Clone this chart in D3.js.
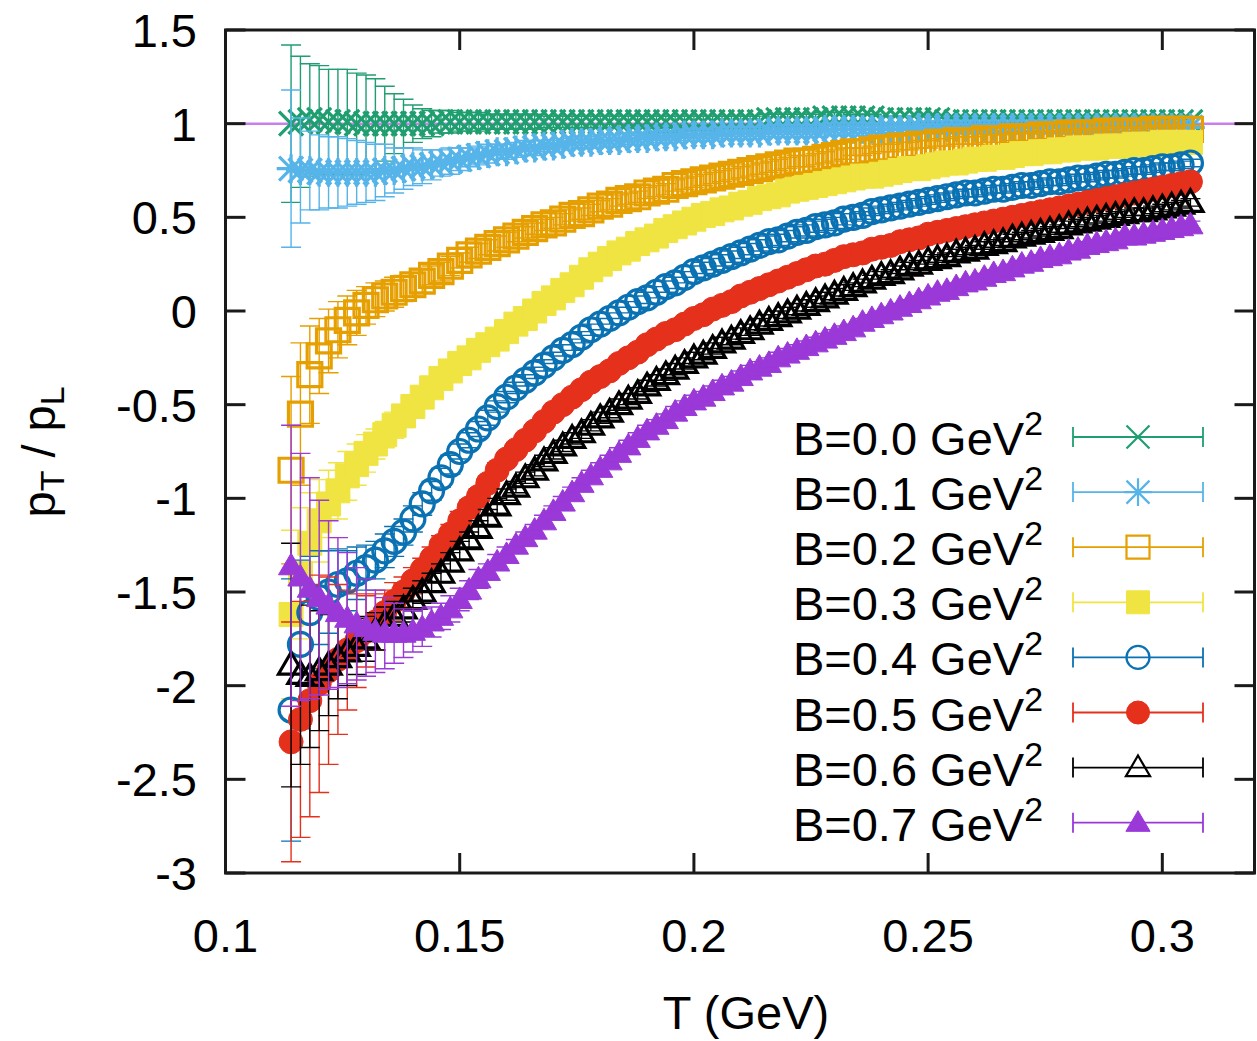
<!DOCTYPE html>
<html><head><meta charset="utf-8">
<script src="https://cdn.jsdelivr.net/npm/d3@7"></script>
<style>
html,body{margin:0;padding:0;background:#fff;}
svg{display:block;}
text{font-family:"Liberation Sans",Arial,Helvetica,sans-serif;fill:#000;}
</style>
</head><body>
<svg id="chart" width="1257" height="1041"></svg>
<script>
// ---- data ----
const T = [0.114,0.116,0.118,0.120,0.122,0.124,0.126,0.128,0.130,0.132,
0.134,0.136,0.138,0.140,0.142,0.144,0.146,0.148,0.150,0.152,
0.154,0.156,0.158,0.160,0.162,0.164,0.166,0.168,0.170,0.172,
0.174,0.176,0.178,0.180,0.182,0.184,0.186,0.188,0.190,0.192,
0.194,0.196,0.198,0.200,0.202,0.204,0.206,0.208,0.210,0.212,
0.214,0.216,0.218,0.220,0.222,0.224,0.226,0.228,0.230,0.232,
0.234,0.236,0.238,0.240,0.242,0.244,0.246,0.248,0.250,0.252,
0.254,0.256,0.258,0.260,0.262,0.264,0.266,0.268,0.270,0.272,
0.274,0.276,0.278,0.280,0.282,0.284,0.286,0.288,0.290,0.292,
0.294,0.296,0.298,0.300,0.302,0.304,0.306];

const B00 = [1.00,1.01,1.02,1.02,1.01,1.01,1.01,1.00,1.00,1.00,
1.00,1.00,1.00,1.00,1.00,1.00,1.01,1.01,1.01,1.01,
1.01,1.01,1.01,1.01,1.01,1.01,1.01,1.01,1.01,1.01,
1.01,1.01,1.01,1.01,1.01,1.01,1.01,1.01,1.01,1.01,
1.01,1.01,1.01,1.01,1.01,1.01,1.01,1.01,1.01,1.01,
1.01,1.02,1.02,1.02,1.02,1.02,1.02,1.03,1.03,1.03,
1.03,1.03,1.03,1.02,1.02,1.02,1.02,1.02,1.02,1.02,
1.01,1.01,1.01,1.01,1.01,1.01,1.01,1.01,1.01,1.01,
1.01,1.01,1.01,1.01,1.01,1.01,1.01,1.01,1.01,1.01,
1.01,1.01,1.01,1.01,1.01,1.01,1.01];
const E00 = [0.42,0.35,0.30,0.29,0.28,0.28,0.28,0.27,0.26,0.24,
0.20,0.16,0.13,0.10,0.08,0.07,0.06,0.06,0.05,0.05,
0.05,0.04,0.04,0.04,0.04,0.04,0.04,0.03,0.03,0.03,
0.03,0.03,0.03,0.03,0.03,0.03,0.03,0.03,0.03,0.03,
0.03,0.03,0.03,0.03,0.03,0.03,0.03,0.03,0.03,0.03,
0.03,0.03,0.03,0.03,0.03,0.03,0.03,0.03,0.03,0.03,
0.02,0.02,0.02,0.02,0.02,0.02,0.02,0.02,0.02,0.02,
0.02,0.02,0.02,0.02,0.02,0.02,0.02,0.02,0.02,0.02,
0.02,0.02,0.02,0.02,0.02,0.02,0.02,0.02,0.02,0.02,
0.02,0.02,0.02,0.02,0.02,0.02,0.02];

const B01 = [0.76,0.75,0.75,0.74,0.74,0.74,0.74,0.74,0.74,0.74,
0.75,0.75,0.76,0.77,0.77,0.78,0.79,0.80,0.81,0.82,
0.83,0.84,0.85,0.85,0.86,0.87,0.87,0.88,0.88,0.89,
0.90,0.90,0.90,0.91,0.91,0.91,0.92,0.92,0.92,0.93,
0.93,0.93,0.94,0.94,0.94,0.94,0.95,0.95,0.95,0.95,
0.95,0.96,0.96,0.96,0.96,0.96,0.96,0.97,0.97,0.97,
0.97,0.97,0.97,0.97,0.97,0.97,0.97,0.98,0.98,0.98,
0.98,0.98,0.98,0.98,0.98,0.98,0.98,0.98,0.98,0.98,
0.98,0.98,0.98,0.98,0.98,0.98,0.98,0.98,0.98,0.98,
0.98,0.98,0.98,0.98,0.98,0.98,0.98];
const E01 = [0.42,0.28,0.21,0.20,0.19,0.19,0.18,0.17,0.16,0.15,
0.14,0.12,0.11,0.10,0.09,0.08,0.07,0.07,0.06,0.05,
0.05,0.05,0.04,0.04,0.04,0.04,0.04,0.03,0.03,0.03,
0.03,0.03,0.03,0.03,0.03,0.03,0.03,0.03,0.03,0.03,
0.03,0.03,0.03,0.03,0.03,0.03,0.03,0.03,0.03,0.03,
0.03,0.03,0.03,0.03,0.03,0.03,0.03,0.03,0.03,0.03,
0.02,0.02,0.02,0.02,0.02,0.02,0.02,0.02,0.02,0.02,
0.02,0.02,0.02,0.02,0.02,0.02,0.02,0.02,0.02,0.02,
0.02,0.02,0.02,0.02,0.02,0.02,0.02,0.02,0.02,0.02,
0.02,0.02,0.02,0.02,0.02,0.02,0.02];

const B02 = [-0.85,-0.55,-0.34,-0.24,-0.16,-0.10,-0.05,-0.01,0.03,0.06,
0.08,0.10,0.12,0.14,0.16,0.19,0.21,0.24,0.27,0.30,
0.32,0.34,0.36,0.38,0.40,0.42,0.44,0.46,0.47,0.49,
0.51,0.52,0.54,0.56,0.57,0.59,0.60,0.61,0.63,0.64,
0.65,0.67,0.68,0.69,0.70,0.71,0.72,0.73,0.74,0.75,
0.76,0.77,0.78,0.79,0.80,0.80,0.81,0.82,0.83,0.84,
0.85,0.85,0.86,0.87,0.87,0.88,0.88,0.89,0.89,0.90,
0.90,0.91,0.91,0.91,0.92,0.92,0.92,0.93,0.93,0.93,
0.94,0.94,0.94,0.95,0.95,0.95,0.95,0.96,0.96,0.96,
0.96,0.96,0.97,0.97,0.97,0.97,0.97];
const E02 = [0.50,0.38,0.26,0.20,0.17,0.15,0.13,0.12,0.10,0.09,
0.08,0.08,0.07,0.06,0.06,0.05,0.05,0.05,0.04,0.04,
0.04,0.04,0.04,0.04,0.03,0.03,0.03,0.03,0.03,0.03,
0.03,0.03,0.03,0.03,0.03,0.03,0.03,0.03,0.03,0.03,
0.03,0.03,0.03,0.03,0.03,0.03,0.03,0.03,0.03,0.03,
0.03,0.03,0.03,0.03,0.03,0.03,0.03,0.03,0.03,0.03,
0.02,0.02,0.02,0.02,0.02,0.02,0.02,0.02,0.02,0.02,
0.02,0.02,0.02,0.02,0.02,0.02,0.02,0.02,0.02,0.02,
0.02,0.02,0.02,0.02,0.02,0.02,0.02,0.02,0.02,0.02,
0.02,0.02,0.02,0.02,0.02,0.02,0.02];

const B03 = [-1.62,-1.40,-1.24,-1.12,-1.03,-0.96,-0.88,-0.82,-0.76,-0.71,
-0.66,-0.61,-0.56,-0.51,-0.46,-0.41,-0.36,-0.32,-0.28,-0.25,
-0.21,-0.18,-0.15,-0.11,-0.07,-0.04,0.00,0.04,0.07,0.11,
0.14,0.18,0.22,0.25,0.28,0.31,0.33,0.36,0.38,0.40,
0.43,0.45,0.47,0.49,0.51,0.52,0.54,0.55,0.57,0.58,
0.60,0.61,0.62,0.64,0.65,0.66,0.67,0.68,0.69,0.70,
0.71,0.72,0.72,0.73,0.74,0.75,0.76,0.76,0.77,0.78,
0.79,0.79,0.80,0.81,0.81,0.82,0.82,0.83,0.84,0.84,
0.85,0.85,0.86,0.86,0.87,0.87,0.87,0.88,0.88,0.88,
0.89,0.89,0.89,0.90,0.90,0.90,0.90];
const E03 = [0.45,0.35,0.27,0.22,0.18,0.15,0.13,0.11,0.10,0.08,
0.07,0.07,0.06,0.06,0.05,0.05,0.05,0.04,0.04,0.04,
0.04,0.03,0.03,0.03,0.03,0.03,0.03,0.03,0.03,0.03,
0.03,0.03,0.03,0.03,0.03,0.03,0.03,0.03,0.03,0.03,
0.03,0.03,0.03,0.03,0.03,0.03,0.03,0.03,0.03,0.03,
0.03,0.03,0.03,0.03,0.03,0.03,0.03,0.03,0.03,0.03,
0.02,0.02,0.02,0.02,0.02,0.02,0.02,0.02,0.02,0.02,
0.02,0.02,0.02,0.02,0.02,0.02,0.02,0.02,0.02,0.02,
0.02,0.02,0.02,0.02,0.02,0.02,0.02,0.02,0.02,0.02,
0.02,0.02,0.02,0.02,0.02,0.02,0.02];

const B04 = [-2.13,-1.78,-1.61,-1.53,-1.50,-1.46,-1.44,-1.40,-1.37,-1.33,
-1.28,-1.23,-1.18,-1.11,-1.03,-0.96,-0.89,-0.82,-0.75,-0.69,
-0.63,-0.57,-0.51,-0.46,-0.41,-0.37,-0.33,-0.29,-0.25,-0.21,
-0.18,-0.14,-0.10,-0.07,-0.04,-0.01,0.02,0.05,0.07,0.10,
0.13,0.15,0.18,0.21,0.23,0.25,0.27,0.29,0.31,0.33,
0.35,0.37,0.38,0.40,0.42,0.43,0.45,0.46,0.47,0.49,
0.50,0.51,0.53,0.54,0.55,0.56,0.57,0.58,0.59,0.60,
0.61,0.62,0.63,0.63,0.64,0.65,0.65,0.66,0.67,0.67,
0.68,0.69,0.69,0.70,0.71,0.71,0.72,0.73,0.73,0.74,
0.75,0.75,0.76,0.77,0.77,0.78,0.79];
const E04 = [0.70,0.45,0.30,0.25,0.22,0.19,0.16,0.14,0.12,0.10,
0.09,0.08,0.07,0.07,0.06,0.05,0.05,0.05,0.04,0.04,
0.04,0.04,0.03,0.03,0.03,0.03,0.03,0.03,0.03,0.03,
0.03,0.03,0.03,0.03,0.03,0.03,0.03,0.03,0.03,0.03,
0.03,0.03,0.03,0.03,0.03,0.03,0.03,0.03,0.03,0.03,
0.03,0.03,0.03,0.03,0.03,0.03,0.03,0.03,0.03,0.03,
0.02,0.02,0.02,0.02,0.02,0.02,0.02,0.02,0.02,0.02,
0.02,0.02,0.02,0.02,0.02,0.02,0.02,0.02,0.02,0.02,
0.02,0.02,0.02,0.02,0.02,0.02,0.02,0.02,0.02,0.02,
0.02,0.02,0.02,0.02,0.02,0.02,0.02];

const B05 = [-2.30,-2.18,-2.08,-1.99,-1.92,-1.86,-1.81,-1.76,-1.71,-1.66,
-1.61,-1.55,-1.50,-1.44,-1.38,-1.32,-1.25,-1.19,-1.12,-1.05,
-0.99,-0.92,-0.85,-0.79,-0.74,-0.69,-0.64,-0.59,-0.54,-0.50,
-0.46,-0.42,-0.38,-0.35,-0.32,-0.28,-0.25,-0.22,-0.18,-0.15,
-0.12,-0.10,-0.07,-0.04,-0.02,0.01,0.03,0.05,0.08,0.10,
0.12,0.14,0.16,0.18,0.20,0.22,0.24,0.25,0.27,0.29,
0.30,0.31,0.33,0.34,0.35,0.37,0.38,0.39,0.41,0.42,
0.43,0.44,0.45,0.46,0.47,0.48,0.49,0.50,0.51,0.52,
0.53,0.54,0.55,0.56,0.57,0.58,0.59,0.60,0.61,0.62,
0.63,0.64,0.65,0.66,0.67,0.68,0.69];
const E05 = [0.64,0.63,0.62,0.58,0.50,0.40,0.32,0.25,0.19,0.15,
0.12,0.10,0.08,0.07,0.06,0.06,0.05,0.05,0.05,0.04,
0.04,0.04,0.04,0.03,0.03,0.03,0.03,0.03,0.03,0.03,
0.03,0.03,0.03,0.03,0.03,0.03,0.03,0.03,0.03,0.03,
0.03,0.03,0.03,0.03,0.03,0.03,0.03,0.03,0.03,0.03,
0.03,0.03,0.03,0.03,0.03,0.03,0.03,0.03,0.03,0.03,
0.02,0.02,0.02,0.02,0.02,0.02,0.02,0.02,0.02,0.02,
0.02,0.02,0.02,0.02,0.02,0.02,0.02,0.02,0.02,0.02,
0.02,0.02,0.02,0.02,0.02,0.02,0.02,0.02,0.02,0.02,
0.02,0.02,0.02,0.02,0.02,0.02,0.02];

const B06 = [-1.89,-1.94,-1.95,-1.92,-1.89,-1.85,-1.82,-1.79,-1.75,-1.71,
-1.67,-1.63,-1.59,-1.54,-1.50,-1.45,-1.40,-1.34,-1.28,-1.22,
-1.16,-1.10,-1.04,-0.98,-0.94,-0.89,-0.85,-0.80,-0.76,-0.72,
-0.68,-0.65,-0.61,-0.57,-0.54,-0.50,-0.47,-0.44,-0.40,-0.37,
-0.34,-0.31,-0.28,-0.25,-0.23,-0.20,-0.17,-0.15,-0.12,-0.10,
-0.07,-0.05,-0.03,-0.01,0.01,0.03,0.05,0.07,0.09,0.11,
0.13,0.15,0.17,0.19,0.20,0.22,0.24,0.25,0.27,0.28,
0.29,0.31,0.32,0.33,0.35,0.36,0.37,0.39,0.40,0.41,
0.42,0.43,0.44,0.46,0.47,0.48,0.49,0.50,0.51,0.52,
0.53,0.53,0.54,0.55,0.56,0.57,0.58];
const E06 = [0.65,0.48,0.38,0.32,0.27,0.22,0.18,0.15,0.12,0.10,
0.09,0.08,0.07,0.06,0.06,0.05,0.05,0.05,0.05,0.04,
0.04,0.04,0.04,0.03,0.03,0.03,0.03,0.03,0.03,0.03,
0.03,0.03,0.03,0.03,0.03,0.03,0.03,0.03,0.03,0.03,
0.03,0.03,0.03,0.03,0.03,0.03,0.03,0.03,0.03,0.03,
0.03,0.03,0.03,0.03,0.03,0.03,0.03,0.03,0.03,0.03,
0.02,0.02,0.02,0.02,0.02,0.02,0.02,0.02,0.02,0.02,
0.02,0.02,0.02,0.02,0.02,0.02,0.02,0.02,0.02,0.02,
0.02,0.02,0.02,0.02,0.02,0.02,0.02,0.02,0.02,0.02,
0.02,0.02,0.02,0.02,0.02,0.02,0.02];

const B07 = [-1.36,-1.42,-1.48,-1.53,-1.57,-1.61,-1.64,-1.67,-1.69,-1.71,
-1.72,-1.72,-1.72,-1.71,-1.69,-1.66,-1.63,-1.59,-1.54,-1.49,
-1.43,-1.39,-1.34,-1.30,-1.25,-1.21,-1.17,-1.12,-1.07,-1.02,
-0.97,-0.92,-0.88,-0.84,-0.80,-0.76,-0.72,-0.68,-0.64,-0.61,
-0.58,-0.54,-0.51,-0.48,-0.46,-0.43,-0.40,-0.38,-0.35,-0.32,
-0.30,-0.28,-0.25,-0.23,-0.21,-0.19,-0.17,-0.15,-0.13,-0.11,
-0.09,-0.06,-0.04,-0.02,0.00,0.02,0.04,0.06,0.08,0.10,
0.11,0.13,0.15,0.16,0.18,0.20,0.21,0.23,0.25,0.26,
0.28,0.29,0.30,0.32,0.33,0.35,0.36,0.37,0.38,0.40,
0.40,0.41,0.42,0.43,0.44,0.45,0.46];
const E07 = [0.75,0.66,0.59,0.52,0.45,0.40,0.35,0.30,0.26,0.22,
0.19,0.16,0.13,0.11,0.10,0.08,0.07,0.07,0.06,0.05,
0.05,0.04,0.04,0.04,0.03,0.03,0.03,0.03,0.03,0.03,
0.03,0.03,0.03,0.03,0.03,0.03,0.03,0.03,0.03,0.03,
0.03,0.03,0.03,0.03,0.03,0.03,0.03,0.03,0.03,0.03,
0.03,0.03,0.03,0.03,0.03,0.03,0.03,0.03,0.03,0.03,
0.02,0.02,0.02,0.02,0.02,0.02,0.02,0.02,0.02,0.02,
0.02,0.02,0.02,0.02,0.02,0.02,0.02,0.02,0.02,0.02,
0.02,0.02,0.02,0.02,0.02,0.02,0.02,0.02,0.02,0.02,
0.02,0.02,0.02,0.02,0.02,0.02,0.02];

const seriesValues = [B00,B01,B02,B03,B04,B05,B06,B07];
const seriesErrors = [E00,E01,E02,E03,E04,E05,E06,E07];
const seriesLabels = ["B=0.0 GeV","B=0.1 GeV","B=0.2 GeV","B=0.3 GeV","B=0.4 GeV","B=0.5 GeV","B=0.6 GeV","B=0.7 GeV"];
const referenceLine = [1.0];

const xTicks = [0.1,0.15,0.2,0.25,0.3];
const xTickLabels = ["0.1","0.15","0.2","0.25","0.3"];
const yTicks = [-3,-2.5,-2,-1.5,-1,-0.5,0,0.5,1,1.5];
const yTickLabels = ["-3","-2.5","-2","-1.5","-1","-0.5","0","0.5","1","1.5"];

// ---- styles ----
const colors = ["#1f9e70","#56b4e9","#e69f00","#f0e442","#0a72b2","#e5301c","#000000","#9a38d8"];
const markers = ["x","star","sqo","sqf","cio","cif","tro","trf"];

// ---- chart ----
const svg = d3.select("#chart");
const pLeft=225.5, pRight=1256, pTop=30, pBottom=873;
const x = d3.scaleLinear().domain([0.1,0.32]).range([pLeft,pRight]);
const y = d3.scaleLinear().domain([-3,1.5]).range([pBottom,pTop]);
const FS = 47;

function markerPath(type, h){
  switch(type){
    case "x": return `M${-h},${-h}L${h},${h}M${-h},${h}L${h},${-h}`;
    case "star": return `M${-h},${-h}L${h},${h}M${-h},${h}L${h},${-h}M0,${-h*1.2}V${h*1.2}M${-h*1.2},0H${h*1.2}`;
    case "sqo": case "sqf": return `M${-h},${-h}H${h}V${h}H${-h}Z`;
    case "cio": case "cif": return d3.symbol(d3.symbolCircle, Math.PI*h*h)();
    case "tro": case "trf": return `M0,${-h*1.05}L${h*1.05},${h*0.75}L${-h*1.05},${h*0.75}Z`;
  }
}
function styleMarker(sel,type,color,sw){
  const filled = (type==="sqf"||type==="cif"||type==="trf");
  sel.attr("fill", filled?color:"none")
     .attr("stroke", color)
     .attr("stroke-width", filled?1:sw)
     .attr("stroke-linejoin","miter");
}

// reference line y = 1
svg.append("line")
  .attr("x1",x(0.1)).attr("x2",x(0.32))
  .attr("y1",y(referenceLine[0])).attr("y2",y(referenceLine[0]))
  .attr("stroke","#9400d3").attr("stroke-opacity",0.5).attr("stroke-width",2.5);

// series
seriesValues.forEach((vals,si)=>{
  const errs = seriesErrors[si];
  const col = colors[si];
  const pts = T.map((t,i)=>({t:t, v:vals[i], e:errs[i]}));
  const g = svg.append("g");
  g.selectAll("path.eb").data(pts).join("path")
    .attr("class","eb")
    .attr("d", d=>{
      const X=x(d.t), y1=y(d.v+d.e), y0=y(d.v-d.e);
      return `M${X},${y0}V${y1}M${X-10},${y1}h20M${X-10},${y0}h20`;
    })
    .attr("fill","none").attr("stroke",col).attr("stroke-width",1.4);
  const mp = markerPath(markers[si], 12);
  g.selectAll("path.mk").data(pts).join("path")
    .attr("class","mk")
    .attr("d", mp)
    .attr("transform", d=>`translate(${x(d.t)},${y(d.v)})`)
    .call(styleMarker, markers[si], col, 3.2);
});

// axes frame
const axisCol = "#1a1a1a";
svg.append("rect").attr("x",pLeft).attr("y",pTop).attr("width",pRight-pLeft-1.5).attr("height",pBottom-pTop)
  .attr("fill","none").attr("stroke",axisCol).attr("stroke-width",3);
const TL = 20;
xTicks.forEach((t,i)=>{
  const X = x(t);
  svg.append("line").attr("x1",X).attr("x2",X).attr("y1",pBottom).attr("y2",pBottom-TL).attr("stroke",axisCol).attr("stroke-width",3);
  svg.append("line").attr("x1",X).attr("x2",X).attr("y1",pTop).attr("y2",pTop+TL).attr("stroke",axisCol).attr("stroke-width",3);
  svg.append("text").attr("x",X).attr("y",952).attr("text-anchor","middle").attr("font-size",FS).text(xTickLabels[i]);
});
yTicks.forEach((t,i)=>{
  const Y = y(t);
  svg.append("line").attr("x1",pLeft).attr("x2",pLeft+TL).attr("y1",Y).attr("y2",Y).attr("stroke",axisCol).attr("stroke-width",3);
  svg.append("line").attr("x1",pRight-1.5).attr("x2",pRight-1.5-TL).attr("y1",Y).attr("y2",Y).attr("stroke",axisCol).attr("stroke-width",3);
  svg.append("text").attr("x",197).attr("y",Y+17).attr("text-anchor","end").attr("font-size",FS).text(yTickLabels[i]);
});

// axis titles
svg.append("text").attr("x",746).attr("y",1029).attr("text-anchor","middle").attr("font-size",FS).text("T (GeV)");
const yl = svg.append("text").attr("transform","translate(55,452) rotate(-90)").attr("text-anchor","middle").attr("font-size",FS);
yl.append("tspan").text("p");
yl.append("tspan").attr("font-size",FS*0.72).attr("dy",9).text("T");
yl.append("tspan").attr("dy",-9).text(" / p");
yl.append("tspan").attr("font-size",FS*0.72).attr("dy",9).text("L");

// legend
seriesLabels.forEach((lab,i)=>{
  const ry = 437 + i*55.1;
  const col = colors[i];
  const t = svg.append("text").attr("x",1043).attr("y",ry+18).attr("text-anchor","end").attr("font-size",FS);
  t.append("tspan").text(lab);
  t.append("tspan").attr("font-size",FS*0.72).attr("dy",-20).text("2");
  svg.append("path")
    .attr("d",`M1073,${ry}H1203M1073,${ry-10}V${ry+10}M1203,${ry-10}V${ry+10}`)
    .attr("fill","none").attr("stroke",col).attr("stroke-width",1.8);
  svg.append("path").attr("d",markerPath(markers[i], 11.5))
    .attr("transform",`translate(1138,${ry})`)
    .call(styleMarker, markers[i], col, 2.2);
});
</script>
</body></html>
